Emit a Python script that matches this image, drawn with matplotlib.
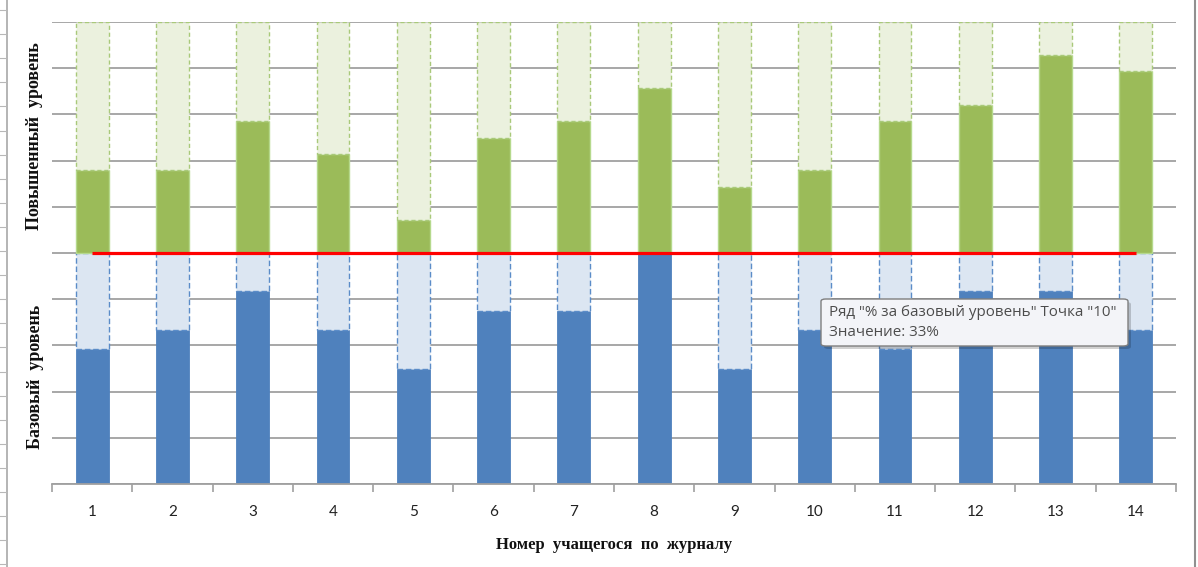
import numpy as np
import matplotlib
matplotlib.use("Agg")
import matplotlib.pyplot as plt
from matplotlib.patches import FancyBboxPatch
from matplotlib.lines import Line2D

# ---- data (percent of total score) ----
students = [str(i) for i in range(1, 15)]
base_pct = [29.2, 33.3, 41.7, 33.3, 25.0, 37.5, 37.5, 50.0, 25.0, 33.3, 29.2, 41.7, 41.7, 33.3]
adv_pct = [17.9, 17.9, 28.6, 21.4, 7.1, 25.0, 28.6, 35.7, 14.3, 17.9, 28.6, 32.1, 42.9, 39.3]
half_max = 50.0          # each level occupies half of the 0-100 axis
threshold = [50.0] * len(students)

x_label = "Номер  учащегося  по  журналу"
y_label_top = "Повышенный  уровень"
y_label_bottom = "Базовый  уровень"
tooltip_line1 = 'Ряд "% за базовый уровень" Точка "10"'
tooltip_line2 = "Значение: 33%"

W, H = 1198, 567
fig = plt.figure(figsize=(W / 100, H / 100), dpi=100)
fig.patch.set_facecolor("white")

left, right, top, bottom = 52, 1176, 22, 484
ax = fig.add_axes([left / W, 1 - bottom / H, (right - left) / W, (bottom - top) / H])

x = np.arange(len(students))
base = np.array(base_pct)
adv = np.array(adv_pct)
bw = 0.41

blue = "#4F81BD"
lblue = "#DCE6F2"
green = "#9BBB59"
lgreen = "#EBF1DE"

ax.bar(x, base, bw, color=blue, edgecolor=blue, linewidth=0.6, zorder=2)
ax.bar(x, half_max - base, bw, bottom=base, color=lblue, edgecolor="#5B8CC8",
       linewidth=1.0, linestyle=(0, (4, 2)), zorder=2)
ax.bar(x, adv, bw, bottom=half_max, color=green, edgecolor="#B5D98C",
       linewidth=1.0, zorder=2)
ax.bar(x, half_max - adv, bw, bottom=half_max + adv, color=lgreen, edgecolor="#A9C97A",
       linewidth=1.0, linestyle=(0, (3, 2)), zorder=2)

ax.plot(x, threshold, color="#FF0000", linewidth=2.3, zorder=4, solid_capstyle="butt")

ax.set_xlim(-0.5, len(students) - 0.5)
ax.set_ylim(0, 100)
ax.set_yticks(np.arange(0, 101, 10))
ax.set_yticklabels([])
ax.tick_params(axis="y", length=0)
ax.yaxis.grid(True, color="#A0A0A0", linewidth=1.3, zorder=0)
ax.set_axisbelow(True)

for s in ["left", "right", "top"]:
    ax.spines[s].set_visible(False)
ax.spines["bottom"].set_color("#A0A0A0")
ax.spines["bottom"].set_linewidth(1.3)

ax.set_xticks(x)
ax.set_xticklabels(students, fontfamily="Lato", fontsize=11, color="#222222")
ax.set_xticks(np.arange(-0.5, len(students), 1.0), minor=True)
ax.tick_params(axis="x", which="major", length=0, pad=15)
ax.tick_params(axis="x", which="minor", length=6, width=1.2, color="#A0A0A0")

ax.set_xlabel(x_label, fontfamily="Liberation Serif", fontweight="bold",
              fontsize=12, labelpad=10, color="#111111")
ax.xaxis.set_label_coords((614 - left) / (right - left), -(537 - bottom) / (bottom - top))

fig.text(35 / W, 1 - 136 / H, y_label_top, rotation=90, ha="center", va="center",
         fontfamily="Liberation Serif", fontweight="bold", fontsize=13, color="#111111")
fig.text(35 / W, 1 - 377 / H, y_label_bottom, rotation=90, ha="center", va="center",
         fontfamily="Liberation Serif", fontweight="bold", fontsize=13, color="#111111")

# ---- window frame (spreadsheet edges) ----
fig.add_artist(Line2D([7 / W, 7 / W], [0, 1], color="#A8A8A8", linewidth=1.2))
for yy in np.arange(10, H, 24.1):
    fig.add_artist(Line2D([0, 6 / W], [1 - yy / H, 1 - yy / H], color="#B8B8B8", linewidth=0.8))
fig.add_artist(Line2D([1195 / W, 1195 / W], [0, 1], color="#909090", linewidth=1.5))

# ---- tooltip ----
tx0, ty0, tx1, ty1 = 821, 299, 1128, 346
shadow = FancyBboxPatch(((tx0 + 3) / W, 1 - (ty1 + 3) / H), (tx1 - tx0) / W, (ty1 - ty0) / H,
                        boxstyle="round,pad=0,rounding_size=0.004", transform=fig.transFigure,
                        facecolor="#000000", alpha=0.18, edgecolor="none", zorder=9)
fig.add_artist(shadow)
box = FancyBboxPatch((tx0 / W, 1 - ty1 / H), (tx1 - tx0) / W, (ty1 - ty0) / H,
                     boxstyle="round,pad=0,rounding_size=0.004", transform=fig.transFigure,
                     facecolor="#F3F4F8", edgecolor="#7F7F7F", linewidth=1.0, zorder=10)
fig.add_artist(box)
fig.text(829 / W, 1 - 313 / H, tooltip_line1, ha="left", va="center", fontfamily="Open Sans",
         fontsize=10.9, color="#4C4C4C", zorder=11)
fig.text(829 / W, 1 - 333 / H, tooltip_line2, ha="left", va="center", fontfamily="Open Sans",
         fontsize=10.9, color="#4C4C4C", zorder=11)

fig.savefig("out.png", dpi=100, facecolor="white")
